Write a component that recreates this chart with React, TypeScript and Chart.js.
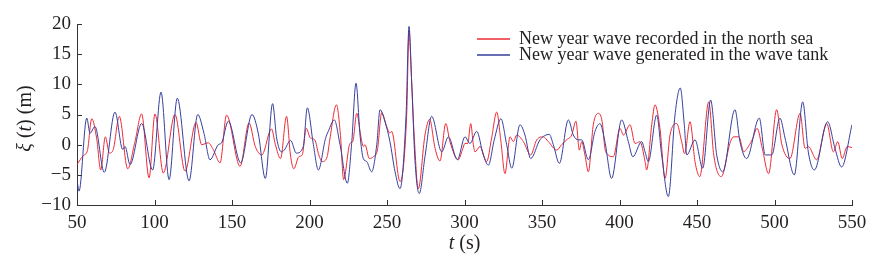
import React, { useEffect, useRef } from "react";
import { Chart, registerables } from "chart.js";

Chart.register(...registerables);

// ---- data ----
const redT = [
  50, 54.1, 56.7, 59.5, 62.7, 65.3, 68.3, 70.9, 73.4, 77.3, 82.7, 87.4, 91.7, 96.5, 100.3, 105.7,
  113.2, 119.7, 126.8, 130.4, 134.7, 137.9, 142.3, 146.5, 155.2, 161, 165, 169.2, 175.5, 178,
  181.3, 185.2, 187.7, 189.9, 193.1, 195.3, 197.9, 200.6, 203.4, 206, 208.2, 211.4, 212.9, 217.4,
  220, 222, 226.1, 227.9, 230.5, 233, 234.7, 235.8, 238.6, 241.2, 243.8, 246.6, 249.8, 251.9, 253,
  258.4, 262.7, 264.2, 265.9, 267.4, 270.2, 274.5, 277.5, 281, 284.2, 287.9, 290.6, 296, 298.6,
  300.3, 302.1, 304, 305.7, 306.8, 310, 314.3, 317.5, 320.8, 323.5, 326.1, 329.4, 331.5, 333.7,
  338, 342.7, 346.6, 350.8, 354.1, 359.5, 362.7, 365.9, 369.2, 371.9, 374.1, 375.6, 377.7, 379.9,
  383.1, 386.4, 388.8, 390.6, 392.8, 396, 400.3, 402.5, 406.8, 410, 413.2, 416.5, 417.5, 420.8,
  422.9, 426.1, 429.4, 432.6, 436.9, 440.1, 442, 445.5, 448.7, 451.8, 457.6, 460.8, 465.6, 471.6,
  473.8, 477, 480.2, 482.4, 485.6, 488.8, 492.1, 496.2, 501.4, 504.6, 510, 516.5, 519.7, 521.8,
  527.2, 533.7, 538, 540.8, 543.7, 546.9, 550,
];
const redV = [
  -3.3, -1.8, -1.0, 4.3, 1.0, -4.2, 1.3, -1.4, -0.8, 4.7, -4.0, 0.5, 5.1, -5.5, 5.1, -4.7,
  5.0, -4.4, 3.7, 0, 0.3, -0.8, -3.0, 4.9, -3.6, 3.6, -0.3, -1.7, 2.6, 0,
  -2.3, 4.7, -1.7, -4.0, -2.0, -1.7, 2.7, 1.1, 0.8, -1.7, -2.8, -2.0, 0.5, 6.6,
  1.5, -5.8, 0.2, 0.5, 5.2, 1.6, -0.3, 0, -2.3, -2.0, -0.9, 5.3, 3.0, 1.9, 2.2,
  -6.1, 4.9, 18.8, 10.5, 2.2, -7.3, 1.6, 4.2, -0.6, -2.7, 3.5, 0.5, -2.5, -0.9,
  0.2, 0.2, 3.5, 0, -1.2, -0.3, -2.8, 1.1, 5.4, 0.5, -4.8, 1.3, 0.5, 1.6,
  0.5, -1.7, 0.8, 1.3, 0.5, -0.9, 0, 0.8, 1.6, 3.9, -0.9, 0.5, -1.7, -4.5,
  3.3, 5.2, 3.8, -0.6, -1.7, -2.0, 2.7, 1.6, 3.3, 0.2, 0.5, -2.8, -4.2, 3.3,
  6.6, 2.7, -5.6, 1.6, 3.5, 0.5, -1.5, 3.8, -2.8, -5.3, 7.1, -1.7, -5.3, 0.5,
  1.3, 1.3, -1.2, -0.6, 0.8, 2.7, -0.6, -4.8, 5.8, 0.2, -2.3, 5.2, -0.6, -0.3,
  -2.5, 3.5, -1.2, 0.5, -2.3, -0.3, -0.5,
];
const blueT = [
  50, 51.3, 56.3, 58.4, 61.6, 67.6, 74.5, 79.5, 81, 84.2, 91.7, 98.8, 104.2, 109.4, 114.7, 122.3,
  127.9, 131.9, 135.8, 141.2, 143.3, 147.6, 155.6, 162.9, 167, 171.5, 176.2, 178.8, 182, 183.7,
  187.8, 191.5, 196, 198.6, 202.5, 205.7, 210.3, 212.1, 216, 219.7, 224.4, 227.2, 230, 232.6,
  234.7, 236.9, 240.1, 243.4, 245.5, 248.7, 251.9, 255.2, 258.4, 262.3, 264.2, 265.9, 268.1,
  270.8, 274.5, 278.8, 285.3, 289.6, 295.4, 300.3, 303.5, 307.9, 312.1, 315.4, 319.2, 323.5,
  327.2, 330.5, 335.8, 339, 342.7, 348.7, 354.7, 357.3, 361.2, 367, 370.2, 373.4, 375.6, 379.9,
  384.2, 387.4, 390.6, 394.9, 401.4, 405.7, 408.6, 414.3, 416.5, 418.6, 424, 427.2, 431.5,
  435.8, 439.2, 441.8, 443.4, 448.7, 453.7, 458.8, 462.7, 466.6, 474.5, 477.7, 482, 490.2, 494,
  498.2, 503.5, 506.8, 512.8, 518.2, 521.8, 525.7, 534.3, 539, 543.3, 550,
];
const blueV = [
  -5.8, -7.7, 4.4, 1.9, 3.0, -4.6, 5.4, -0.8, -0.3, -3.3, 3.5, -4.2, 8.7, -5.8, 7.7, -6.0,
  5.0, 1.9, -2.5, 0, 0.3, 3.9, -3.0, 5.0, 1.8, -5.6, 6.8, 1.1, -1.2, -0.9,
  0.7, -1.4, -0.3, 6.1, 0, -4.2, 1.0, 2.2, 4.1, 0, -6.4, 0.2, 10.2, 1.6,
  -2.3, -2.8, -4.5, 0, 5.8, 3.8, 0.5, -4.5, -7.3, 4.9, 19.6, 10.5, -2.8,
  -8.1, -2.0, 4.7, -1.2, 1.3, -2.5, 1.3, 0.2, 2.2, -1.7, -3.4, 0.8, 4.3,
  0, -3.9, 3.3, 1.6, -2.3, 0.8, 1.7, 0, -3.1, 4.1, 1.6, 0.8, 0.8, -2.5,
  2.2, 3.5, 0.5, -5.6, 4.1, 0.5, -2.0, 0.5, -1.2, -2.8, 4.9, -1.7, -8.6,
  4.9, 9.4, 3.3, -1.7, 0.8, -3.9, 7.4, -1.7, -4.5, 5.8, 0.5, -2.3, 4.4, -1.7,
  -1.7, 4.4, 1.1, -5.0, 7.1, -1.2, -4.2, 3.8, -0.6, -3.7, 3.3,
];
const seriesLabels = [
  "New year wave recorded in the north sea",
  "New year wave generated in the wave tank",
];
const xMin = 50, xMax = 550, xStep = 50;
const yMin = -10, yMax = 20, yStep = 5;

const RED = "#ee2a35";
const BLUE = "#363f9c";
const INK = "#231f20";
const SERIF = '"Liberation Serif", "Times New Roman", serif';

function drawSegments(ctx: CanvasRenderingContext2D, segs: { t: string; it: boolean }[], size: number) {
  const widths = segs.map((s) => {
    ctx.font = `${s.it ? "italic " : ""}${size}px ${SERIF}`;
    return ctx.measureText(s.t).width;
  });
  const total = widths.reduce((a, b) => a + b, 0);
  let x = -total / 2;
  segs.forEach((s, i) => {
    ctx.font = `${s.it ? "italic " : ""}${size}px ${SERIF}`;
    ctx.fillText(s.t, x, 0);
    x += widths[i];
  });
}

const decorPlugin = {
  id: "decor",
  afterDatasetsDraw(chart: any) {
    const { ctx, chartArea, scales } = chart;
    const x = scales.x, y = scales.y;
    ctx.save();
    // inward ticks
    ctx.strokeStyle = "#333";
    ctx.lineWidth = 1;
    ctx.beginPath();
    x.ticks.forEach((t: any) => {
      const px = Math.round(x.getPixelForValue(t.value)) + 0.5;
      ctx.moveTo(px, chartArea.bottom);
      ctx.lineTo(px, chartArea.bottom - 5);
    });
    y.ticks.forEach((t: any) => {
      const py = Math.round(y.getPixelForValue(t.value)) + 0.5;
      ctx.moveTo(chartArea.left, py);
      ctx.lineTo(chartArea.left + 5, py);
    });
    ctx.stroke();
    ctx.restore();

    // legend
    const lx0 = 477, lx1 = 510, tx = 519;
    const rows = [
      { c: RED, y: 39, base: 44, label: seriesLabels[0] },
      { c: BLUE, y: 55, base: 60, label: seriesLabels[1] },
    ];
    rows.forEach((r) => {
      ctx.save();
      ctx.strokeStyle = r.c;
      ctx.lineWidth = 1.5;
      ctx.beginPath();
      ctx.moveTo(lx0, r.y);
      ctx.lineTo(lx1, r.y);
      ctx.stroke();
      ctx.restore();
      ctx.save();
      ctx.font = `18px ${SERIF}`;
      ctx.textBaseline = "alphabetic";
      ctx.textAlign = "left";
      ctx.fillStyle = INK;
      ctx.fillText(r.label, tx, r.base);
      ctx.restore();
    });

    // axis titles
    ctx.save();
    ctx.fillStyle = INK;
    ctx.textBaseline = "middle";
    ctx.textAlign = "left";
    ctx.translate(26, (chartArea.top + chartArea.bottom) / 2 + 4);
    ctx.rotate(-Math.PI / 2);
    drawSegments(ctx, [
      { t: "ξ", it: true },
      { t: " (", it: false },
      { t: "t", it: true },
      { t: ") (m)", it: false },
    ], 20);
    ctx.restore();

    ctx.save();
    ctx.fillStyle = INK;
    ctx.textBaseline = "middle";
    ctx.textAlign = "left";
    ctx.translate((chartArea.left + chartArea.right) / 2, 244);
    drawSegments(ctx, [
      { t: "t", it: true },
      { t: " (s)", it: false },
    ], 20);
    ctx.restore();
  },
};

export default function App() {
  const ref = useRef<HTMLCanvasElement>(null);
  useEffect(() => {
    if (!ref.current) return;
    const chart = new Chart(ref.current, {
      type: "line",
      data: {
        datasets: [
          {
            label: seriesLabels[0],
            data: redT.map((t, i) => ({ x: t, y: redV[i] })),
            borderColor: RED,
            borderWidth: 1,
            pointRadius: 0,
            cubicInterpolationMode: "monotone",
            order: 1,
          },
          {
            label: seriesLabels[1],
            data: blueT.map((t, i) => ({ x: t, y: blueV[i] })),
            borderColor: BLUE,
            borderWidth: 1,
            pointRadius: 0,
            cubicInterpolationMode: "monotone",
            order: 0,
          },
        ],
      },
      plugins: [decorPlugin],
      options: {
        animation: false,
        responsive: false,
        layout: { padding: { left: 0, right: 27, top: 24, bottom: 0 } },
        plugins: { legend: { display: false }, tooltip: { enabled: false } },
        scales: {
          x: {
            type: "linear",
            min: xMin,
            max: xMax,
            afterFit: (s: any) => { s.height = 56; },
            ticks: {
              stepSize: xStep,
              padding: 7,
              color: INK,
              font: { family: SERIF, size: 19 },
              maxRotation: 0,
            },
            grid: { drawOnChartArea: false, drawTicks: false },
            border: { display: true, color: "#333", width: 1 },
          },
          y: {
            type: "linear",
            min: yMin,
            max: yMax,
            afterFit: (s: any) => { s.width = 77; },
            ticks: {
              stepSize: yStep,
              padding: 6,
              color: INK,
              font: { family: SERIF, size: 19 },
              callback: (v: any) => (v < 0 ? "\u2212" + Math.abs(v) : String(v)),
            },
            grid: { drawOnChartArea: false, drawTicks: false },
            border: { display: true, color: "#333", width: 1 },
          },
        },
      },
    });
    return () => chart.destroy();
  }, []);
  return (
    <div style={{ position: "absolute", left: 0, top: 0, width: 879, height: 261, background: "#fff" }}>
      <canvas ref={ref} width={879} height={261} />
    </div>
  );
}
